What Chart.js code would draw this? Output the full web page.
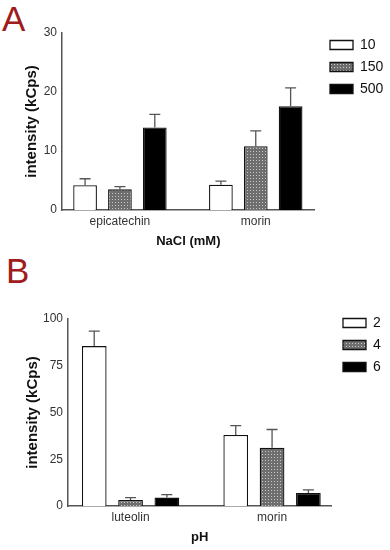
<!DOCTYPE html>
<html>
<head>
<meta charset="utf-8">
<script src="https://cdn.jsdelivr.net/npm/chart.js@4"></script>
<style>
  body { margin: 0; background: #fff; width: 390px; height: 550px; position: relative; overflow: hidden; }
  .panel { position: absolute; left: 0; width: 390px; }
  .letter { position: absolute; font-family: "Liberation Sans", Arial, sans-serif; color: #a01c1c; font-size: 35px; line-height: 1; }
</style>
</head>
<body>
<div class="letter" style="left:2px; top:1px;">A</div>
<div class="letter" style="left:6px; top:253px;">B</div>
<div class="panel" style="top:0; height:250px;"><canvas id="chartA" width="390" height="250"></canvas></div>
<div class="panel" style="top:270px; height:280px;"><canvas id="chartB" width="390" height="280"></canvas></div>
<script>
// Panel A: NaCl
const catsA = ['epicatechin', 'morin'];
const seriesA = ['10', '150', '500'];
const valuesA10 = [4.2, 4.3];
const valuesA150 = [3.5, 10.8];
const valuesA500 = [14.0, 17.6];
const errA10 = [1.1, 0.6];
const errA150 = [0.45, 2.6];
const errA500 = [2.2, 3.1];
const ticksA = [0, 10, 20, 30];

// Panel B: pH
const catsB = ['luteolin', 'morin'];
const seriesB = ['2', '4', '6'];
const valuesB2 = [85.5, 38.0];
const valuesB4 = [3.2, 31.2];
const valuesB6 = [4.5, 7.0];
const errB2 = [8.0, 5.0];
const errB4 = [1.3, 9.7];
const errB6 = [1.6, 1.6];
const ticksB = [0, 25, 50, 75, 100];

const FONT = '"Liberation Sans", Arial, sans-serif';

// dotted gray fill like the original
function makePattern() {
    const c = document.createElement('canvas');
    c.width = 3; c.height = 3;
    const g = c.getContext('2d');
    g.fillStyle = '#6e6e6e';
    g.fillRect(0, 0, 3, 3);
    g.fillStyle = '#c8c8c8';
    g.fillRect(1, 1, 1, 1);
    return g.createPattern(c, 'repeat');
}
const grayFill = makePattern();

// error bars drawn from the data arrays through the y scale
const errorBars = {
    id: 'errorBars',
    afterDatasetsDraw(chart) {
        const ctx = chart.ctx;
        const y = chart.scales.y;
        ctx.save();
        ctx.strokeStyle = '#555';
        ctx.lineWidth = 1.3;
        chart.data.datasets.forEach((ds, i) => {
            const meta = chart.getDatasetMeta(i);
            meta.data.forEach((bar, j) => {
                const top = y.getPixelForValue(ds.data[j]);
                const hi = y.getPixelForValue(ds.data[j] + ds.err[j]);
                ctx.beginPath();
                ctx.moveTo(bar.x, top);
                ctx.lineTo(bar.x, hi);
                ctx.moveTo(bar.x - 5.5, hi);
                ctx.lineTo(bar.x + 5.5, hi);
                ctx.stroke();
            });
        });
        ctx.restore();
    }
};

// put the legend where the original has it
const legendPlace = {
    id: 'legendPlace',
    afterLayout(chart, args, opts) {
        const lg = chart.legend;
        const w = lg.right - lg.left, h = lg.bottom - lg.top;
        lg.left = opts.x; lg.right = opts.x + w;
        lg.top = opts.y; lg.bottom = opts.y + h;
    }
};

function makeChart(id, cats, names, vals, errs, ticks, xTitle, lay) {
    const fills = ['#ffffff', grayFill, '#000000'];
    const datasets = names.map((n, i) => ({
        label: n,
        data: vals[i],
        err: errs[i],
        backgroundColor: fills[i],
        borderColor: '#111',
        borderWidth: 1.3,
        borderSkipped: 'bottom',
        barPercentage: 0.68,
        categoryPercentage: 0.77
    }));
    return new Chart(document.getElementById(id), {
        type: 'bar',
        data: { labels: cats, datasets: datasets },
        plugins: [errorBars, legendPlace],
        options: {
            responsive: false,
            animation: false,
            layout: { padding: { top: lay.top, right: lay.right, bottom: lay.bottom, left: 0 } },
            plugins: {
                tooltip: { enabled: false },
                legendPlace: { x: lay.legX, y: lay.legY },
                legend: {
                    position: 'right',
                    align: 'start',
                    labels: {
                        boxWidth: 23,
                        boxHeight: 9,
                        padding: 8,
                        color: '#111',
                        font: { family: FONT, size: 14 }
                    }
                }
            },
            scales: {
                x: {
                    afterBuildTicks: s => { s._startValue = lay.xStart; s._valueRange = lay.xRange; },
                    grid: { display: false, drawTicks: false },
                    border: { color: '#555', width: 1.5 },
                    ticks: { color: '#333', padding: 4, font: { family: FONT, size: 12 } },
                    title: { display: true, text: xTitle, color: '#111', padding: { top: 1, bottom: 0 },
                             font: { family: FONT, size: 13, weight: 'bold' } }
                },
                y: {
                    min: ticks[0],
                    max: ticks[ticks.length - 1],
                    afterBuildTicks: s => { s.ticks = ticks.map(v => ({ value: v })); },
                    afterFit: s => { s.width = lay.yWidth; },
                    grid: { display: false, drawTicks: true, tickLength: 4, tickColor: '#555' },
                    border: { color: '#555', width: 1.5 },
                    ticks: { color: '#333', padding: 1, font: { family: FONT, size: 12 } },
                    title: { display: true, text: 'intensity (kCps)', color: '#111',
                             padding: { top: lay.yTitle, bottom: 0 },
                             font: { family: FONT, size: 15, weight: 'bold' } }
                }
            }
        }
    });
}

makeChart('chartA', catsA, seriesA, [valuesA10, valuesA150, valuesA500],
    [errA10, errA150, errA500], ticksA, 'NaCl (mM)',
    { top: 33, right: 4, bottom: 1, yWidth: 62, yTitle: 23, legX: 322, legY: 30, xStart: -0.4265, xRange: 1.86 });
makeChart('chartB', catsB, seriesB, [valuesB2, valuesB4, valuesB6],
    [errB2, errB4, errB6], ticksB, 'pH',
    { top: 49, right: 3, bottom: 5, yWidth: 68, yTitle: 24, legX: 335, legY: 38, xStart: -0.442, xRange: 1.86 });
</script>
</body>
</html>
